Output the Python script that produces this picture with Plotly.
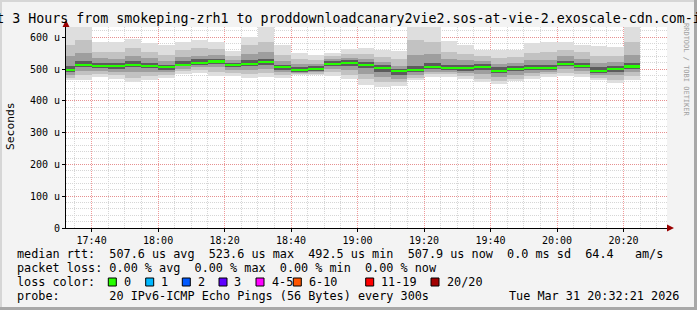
import plotly.graph_objects as go
import pandas as pd

# ---------------- data (microseconds) ----------------
bar_start = "2026-03-31 17:30:00"          # first 5-minute step
n_steps = 35
median = [497, 514, 510, 508, 514, 510, 505, 514, 520, 523.6, 512, 517, 521, 505, 497,
          501, 517, 520, 514, 504, 492.5, 498, 507, 503, 503, 507, 495, 501, 504, 504,
          517, 510, 495, 501, 507.9]
p_max = [660, 660, 584, 584, 595, 581, 576, 584, 592, 584, 558, 600, 660, 576, 551,
         543, 551, 563, 567, 560, 558, 660, 660, 587, 574, 560, 560, 560, 581, 584,
         584, 577, 571, 569, 660]
p_hi2 = [575, 590, 553, 552, 565, 555, 545, 560, 565, 563, 542, 575, 585, 545, 530,
         528, 540, 548, 548, 538, 530, 590, 585, 555, 548, 542, 535, 538, 550, 552,
         560, 552, 540, 540, 585]
p_hi3 = [540, 550, 535, 532, 540, 535, 525, 538, 542, 545, 528, 548, 552, 525, 515,
         515, 530, 535, 532, 522, 510, 545, 548, 530, 527, 526, 515, 520, 528, 528,
         540, 532, 518, 522, 545]
p_hi4 = [508, 525, 520, 518, 525, 520, 514, 524, 530, 532, 520, 527, 532, 514, 505,
         508, 524, 527, 522, 512, 500, 510, 518, 513, 512, 516, 505, 510, 513, 513,
         526, 519, 505, 510, 518]
p_lo4 = [490, 506, 503, 500, 505, 502, 498, 508, 513, 515, 505, 509, 512, 498, 492,
         495, 509, 510, 502, 492, 482, 490, 500, 496, 495, 498, 487, 493, 496, 497,
         509, 502, 487, 492, 500]
p_lo3 = [482, 495, 495, 490, 490, 490, 490, 500, 505, 505, 497, 498, 500, 490, 488,
         490, 500, 497, 485, 475, 470, 482, 492, 490, 487, 485, 475, 482, 487, 490,
         500, 494, 480, 480, 490]
p_lo2 = [472, 480, 485, 480, 472, 477, 482, 493, 496, 492, 488, 485, 488, 482, 484,
         485, 490, 482, 468, 458, 458, 473, 484, 483, 478, 470, 463, 470, 478, 483,
         488, 485, 472, 466, 477]
p_min = [465, 465, 475, 470, 459, 465, 472, 485, 487, 478, 478, 472, 475, 473, 480,
         480, 478, 470, 451, 442, 446, 465, 475, 475, 470, 459, 454, 461, 470, 475,
         477, 475, 465, 456, 465]

y_ticks = [0, 100, 200, 300, 400, 500, 600]
y_tick_text = ["0", "100 u", "200 u", "300 u", "400 u", "500 u", "600 u"]

title_text = "Last 3 Hours from smokeping-zrh1 to proddownloadcanary2vie2.sos-at-vie-2.exoscale-cdn.com-ipv6"
legend_rtt = "median rtt:  507.6 us avg  523.6 us max  492.5 us min  507.9 us now  0.0 ms sd  64.4   am/s"
legend_loss = "packet loss: 0.00 % avg  0.00 % max  0.00 % min  0.00 % now"
probe_text = "probe:       20 IPv6-ICMP Echo Pings (56 Bytes) every 300s"
stamp_text = "Tue Mar 31 20:32:21 2026"
loss_labels = ["0", "1", "2", "3", "4-5", "6-10", "11-19", "20/20"]
loss_colors = ["#26ff00", "#00b8ff", "#0059ff", "#5e00ff", "#ff00ff", "#ff5500", "#ff0000", "#a10000"]

# ---------------- figure ----------------
W, H = 697, 310
L, R, T, B = 66, 30, 27, 82
PW, PH = W - L - R, H - T - B
FONT = "DejaVu Sans Mono"

def px(x):
    return (x - L) / PW

def py(y):
    return (H - B - y) / PH

centers = pd.date_range(pd.Timestamp(bar_start) + pd.Timedelta("150s"), periods=n_steps, freq="5min")
step_ms = 300000

fig = go.Figure()
bands = [
    (p_min, p_max, "#dedede"),
    (p_lo2, p_hi2, "#c2c2c2"),
    (p_lo3, p_hi3, "#9e9e9e"),
    (p_lo4, p_hi4, "#5c5c5c"),
]
for lo, hi, col in bands:
    fig.add_trace(go.Bar(
        x=centers, base=lo, y=[h - l for l, h in zip(lo, hi)], width=step_ms,
        marker=dict(color=col, line=dict(width=0)), hoverinfo="skip", showlegend=False))

med_h = 6.5
fig.add_trace(go.Bar(
    x=centers, base=[m - med_h / 2 for m in median], y=[med_h] * n_steps, width=step_ms,
    marker=dict(color=loss_colors[0], line=dict(width=0)), hoverinfo="skip", showlegend=False))

x0 = pd.Timestamp("2026-03-31 17:32:18")
x1 = pd.Timestamp("2026-03-31 20:33:04")

fig.update_layout(
    width=W, height=H, autosize=False,
    margin=dict(l=L, r=R, t=T, b=B, pad=0),
    paper_bgcolor="#f3f3f3", plot_bgcolor="#ffffff",
    barmode="overlay", bargap=0,
    font=dict(family=FONT, size=10, color="#000000"),
    title=dict(text=title_text, x=0.5, xref="container", xanchor="center",
               y=1 - 18 / H, yref="container", yanchor="middle",
               font=dict(family=FONT, size=13.3, color="#000000")),
    xaxis=dict(
        range=[x0, x1], type="date", tickformat="%H:%M",
        tick0="2026-03-31 17:40:00", dtick=20 * 60 * 1000,
        showgrid=True, gridcolor="rgba(235,120,120,0.75)", griddash="1px,1px", gridwidth=1,
        minor=dict(dtick=5 * 60 * 1000, tick0="2026-03-31 17:40:00", showgrid=True,
                   gridcolor="#d6d6d6", griddash="1px,1px", gridwidth=1),
        showline=True, linecolor="#000000", linewidth=1,
        ticks="outside", ticklen=3, tickcolor="#000000",
        zeroline=False, fixedrange=True,
        tickfont=dict(family=FONT, size=10),
    ),
    yaxis=dict(
        range=[0, PH / 0.318 * 1.0], tickvals=y_ticks, ticktext=y_tick_text,
        showgrid=True, gridcolor="rgba(235,120,120,0.75)", griddash="1px,1px", gridwidth=1,
        minor=dict(dtick=20, showgrid=True, gridcolor="#d6d6d6", griddash="1px,1px", gridwidth=1),
        showline=True, linecolor="#000000", linewidth=1,
        ticks="outside", ticklen=3, tickcolor="#000000",
        zeroline=False, fixedrange=True,
        tickfont=dict(family=FONT, size=10),
    ),
)

shapes = []
# axis arrows
shapes.append(dict(type="path", xref="paper", yref="paper",
                   path=f"M {px(62.5)} {py(27)} L {px(69.5)} {py(27)} L {px(66)} {py(20)} Z",
                   fillcolor="#990000", line=dict(width=0), layer="above"))
shapes.append(dict(type="path", xref="paper", yref="paper",
                   path=f"M {px(667)} {py(224.5)} L {px(667)} {py(231.5)} L {px(674)} {py(228)} Z",
                   fillcolor="#990000", line=dict(width=0), layer="above"))
# frame shading
shapes.append(dict(type="rect", xref="paper", yref="paper", x0=px(0), x1=px(2), y0=py(H), y1=py(0),
                   fillcolor="#d6d6d6", line=dict(width=0), layer="above"))
shapes.append(dict(type="rect", xref="paper", yref="paper", x0=px(0), x1=px(W), y0=py(2), y1=py(0),
                   fillcolor="#d6d6d6", line=dict(width=0), layer="above"))
shapes.append(dict(type="rect", xref="paper", yref="paper", x0=px(W - 3), x1=px(W), y0=py(H), y1=py(0),
                   fillcolor="#a8a8a8", line=dict(width=0), layer="above"))
shapes.append(dict(type="rect", xref="paper", yref="paper", x0=px(0), x1=px(W), y0=py(H), y1=py(H - 3),
                   fillcolor="#a8a8a8", line=dict(width=0), layer="above"))

# loss colour boxes
box_left = [108.3, 145.7, 182.3, 219, 256, 293.3, 365.7, 431]
for bx, col in zip(box_left, loss_colors):
    shapes.append(dict(type="rect", xref="paper", yref="paper",
                       x0=px(bx), x1=px(bx + 8), y0=py(286), y1=py(278),
                       fillcolor=col, line=dict(color="#000000", width=1), layer="above"))
fig.update_layout(shapes=shapes)

def nb(s):
    return s.replace(" ", "\u00a0")

ann = []
def add_text(text, x, y, size, anchor="left", color="#000000", angle=0):
    ann.append(dict(text=nb(text), x=px(x), y=py(y), xref="paper", yref="paper",
                    xanchor=anchor, yanchor="middle", showarrow=False, textangle=angle,
                    font=dict(family=FONT, size=size, color=color)))

LF = 11.8
add_text(legend_rtt, 15, 254, LF)
add_text(legend_loss, 15, 268.3, LF)
add_text("loss color:", 15, 281.7, LF)
for bx, lab in zip(box_left, loss_labels):
    add_text(lab, bx + 13.5, 281.7, LF)
add_text(probe_text, 15, 296, LF)
add_text(stamp_text, 681, 296, LF, anchor="right")
add_text("Seconds", 10, 126, 11.3, anchor="center", angle=-90)
add_text("RRDTOOL / TOBI OETIKER", 686, 70, 7, anchor="center", color="#a0a0a0", angle=90)
fig.update_layout(annotations=ann)

fig.write_html("out.html")
